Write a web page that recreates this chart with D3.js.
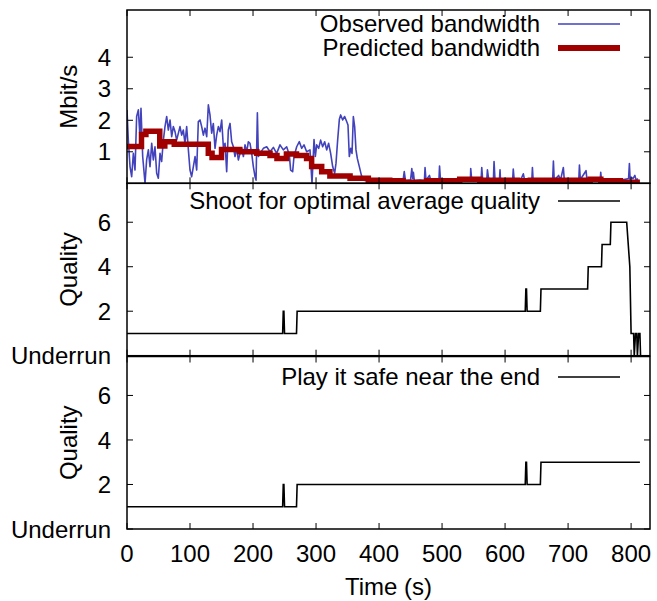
<!DOCTYPE html>
<html>
<head>
<meta charset="utf-8">
<script src="https://cdn.jsdelivr.net/npm/d3@7"></script>
<style>
  body { margin: 0; background: #fff; }
  svg { display: block; }
  text { font-family: "Liberation Sans", Arial, sans-serif; font-size: 24px; fill: #000; }
</style>
</head>
<body>
<svg width="657" height="601"></svg>
<script>
////////////////// DATA
const xTicks = [0, 100, 200, 300, 400, 500, 600, 700, 800];
const bwTicks = [1, 2, 3, 4];
const qualityTicks = [0, 2, 4, 6];
const qualityTickLabels = ["Underrun", "2", "4", "6"];

// observed bandwidth (Mbit/s)
const obsT = [0, 2.1, 4.8, 7.4, 10.1, 12.7, 15.3, 18.0, 20.6, 22.2, 24.9, 28.6, 31.2, 33.9, 36.5, 39.2, 41.8, 44.4, 47.1, 49.7,
  52.4, 55.0, 57.7, 60.3, 63.0, 65.6, 68.3, 70.9, 73.5, 76.2, 78.8, 84.1, 86.8, 89.4, 92.0, 94.7, 97.4, 100.0, 102.6, 105.3,
  108.0, 110.6, 113.2, 115.9, 118.5, 121.2, 123.8, 126.5, 129.1, 131.7, 134.4, 137.0, 139.7, 142.3, 145.0, 147.6, 150.3, 152.9,
  155.6, 158.2, 160.8, 163.5, 166.1, 168.8, 171.4, 174.1, 176.7, 179.4, 182.0, 184.7, 187.3, 190.0, 192.6,
  195.2, 197.9, 200.5, 203.2, 204.8, 206.9, 208.5, 211.1, 216.4, 221.7, 227.0, 232.3, 237.5, 242.8, 248.1, 253.4, 257.6, 259.7,
  262.9, 265.0, 269.3, 273.5, 277.2, 280.9, 285.1, 290.4, 293.6, 296.8, 298.9, 301.0, 304.2, 307.3, 310.5, 313.7, 316.9, 320.0,
  323.2, 326.4, 329.6, 331.7, 334.3, 337.0, 339.1, 342.3, 345.4, 348.6, 350.7, 352.8, 355.0, 357.1, 359.2, 361.3, 363.4, 365.5,
  368.7, 371.9, 375.0, 380.4, 385.6, 396.2, 406.8,
  415, 430, 438, 440, 442, 450, 452, 453.5, 454.5, 456, 465, 472, 473, 474.5, 480, 482, 490, 495, 496, 497.5, 510, 525, 540,
  545, 545.5, 547, 555, 562, 563, 564.5, 571, 572, 573.5, 575, 581.5, 582.5, 584, 591, 592, 593, 595, 605, 612, 613, 614.5,
  625, 629, 631, 642.5, 643.4, 644.5, 660, 675.5, 676.7, 678, 685, 688, 692.5, 694, 705, 717, 718, 719.5, 728.5, 730, 740,
  751, 751.8, 753, 770, 785, 796, 797.3, 798.5, 800, 803, 806, 808, 811];
const obsV = [2.33, 1.37, 0.53, 0.21, 0.95, 0.42, 2.12, 2.33, 1.48, 2.38, 0.85, 0.0, 0.75, 1.06, 0.53, 1.27, 0.74, 1.16, 0.32, 0.16,
  0.95, 0.69, 1.37, 1.8, 2.12, 1.69, 2.01, 1.48, 1.8, 1.64, 1.37, 1.8, 1.53, 1.69, 1.27, 1.8, 1.06, 0.42, 0.21, 0.53,
  0.85, 0.42, 1.96, 2.01, 1.8, 1.53, 1.75, 1.48, 2.49, 2.17, 1.59, 1.9, 1.11, 1.53, 1.8, 1.64, 2.01, 1.16,
  1.27, 0.37, 1.69, 1.9, 1.32, 1.16, 0.85, 1.11, 0.74, 0.95, 1.11, 0.85, 1.22, 1.0, 1.32,
  1.27, 0.95, 0.53, 0.21, 0.1, 2.24, 0.85, 0.95, 1.11, 1.16, 1.0, 1.14, 0.95, 1.22, 1.06, 1.16, 0.9, 0.42,
  0.37, 0.85, 1.16, 1.32, 1.11, 1.22, 1.0, 1.06, 0.0, 1.39, 0.85, 1.22, 1.11, 1.37, 1.16, 1.32, 1.06, 1.27,
  0.95, 0.53, 0.32, 0.64, 1.37, 2.03, 2.17, 2.01, 2.12, 1.96, 1.85, 0.85, 1.11, 0.95, 2.12, 1.8, 1.06, 0.79,
  0.53, 0.26, 0.1, 0.08, 0.12, 0.1, 0.12,
  0.1, 0.12, 0.08, 0.37, 0.08, 0.1, 0.47, 0.15, 0.35, 0.08, 0.1, 0.08, 0.5, 0.1, 0.25, 0.1, 0.12, 0.08, 0.55, 0.1, 0.12, 0.1, 0.12,
  0.1, 0.47, 0.12, 0.1, 0.12, 0.5, 0.1, 0.12, 0.43, 0.2, 0.1, 0.12, 0.69, 0.12, 0.1, 0.43, 0.0, 0.1, 0.12, 0.1, 0.45, 0.1,
  0.12, 0.3, 0.1, 0.1, 0.5, 0.1, 0.12, 0.1, 0.71, 0.1, 0.25, 0.1, 0.5, 0.1, 0.12, 0.1, 0.58, 0.12, 0.4, 0.1, 0.12,
  0.1, 0.35, 0.1, 0.12, 0.1, 0.15, 0.63, 0.1, 0.2, 0.15, 0.25, 0.1, 0.15];

// predicted bandwidth (Mbit/s), step values
const predT = [0, 23, 30, 52, 60, 75, 129, 135, 150, 179, 206, 227, 238, 253, 269, 285, 293, 309, 322, 354, 383, 417, 438,
  476, 528, 560, 620, 640, 735, 752, 783, 814];
const predV = [1.17, 1.55, 1.65, 1.18, 1.32, 1.24, 0.95, 0.82, 1.07, 1.0, 0.95, 0.88, 0.79, 0.93, 0.88, 0.79, 0.53, 0.37,
  0.23, 0.16, 0.1, 0.08, 0.03, 0.08, 0.13, 0.1, 0.08, 0.1, 0.13, 0.08, 0.03, 0.03];

// quality level, "Shoot for optimal average quality"
const optimalT = [0, 247, 248, 249, 250, 269, 270, 632, 633, 634, 635, 656, 657, 731, 732, 753, 754, 767, 768, 793, 798, 800,
  804, 805, 807, 809, 810, 812, 814, 815];
const optimalQ = [1, 1, 2, 2, 1, 1, 2, 2, 3, 3, 2, 2, 3, 3, 4, 4, 5, 5, 6, 6, 4, 1,
  1, 0, 1, 1, 0, 1, 1, 0];

// quality level, "Play it safe near the end"
const safeT = [0, 247, 248, 249, 250, 269, 270, 632, 633, 634, 635, 656, 657, 814];
const safeQ = [1, 1, 2, 2, 1, 1, 2, 2, 3, 3, 2, 2, 3, 3];

////////////////// LAYOUT
const svg = d3.select('svg');
const left = 127, right = 650;
const x = d3.scaleLinear().domain([0, 830]).range([left, right]);

const panels = [
  { id: 'bw', top: 10, bottom: 183.3, domain: [0, 5.5], ticks: bwTicks, labels: bwTicks.map(String), ylabel: 'Mbit/s' },
  { id: 'opt', top: 183.3, bottom: 355.7, domain: [0, 7.75], ticks: qualityTicks, labels: qualityTickLabels, ylabel: 'Quality' },
  { id: 'safe', top: 356.5, bottom: 529, domain: [0, 7.75], ticks: qualityTicks, labels: qualityTickLabels, ylabel: 'Quality' }
];
panels.forEach(p => { p.y = d3.scaleLinear().domain(p.domain).range([p.bottom, p.top]); });

const defs = svg.append('defs');
panels.forEach(p => {
  defs.append('clipPath').attr('id', 'clip-' + p.id)
    .append('rect')
    .attr('x', left).attr('y', p.top)
    .attr('width', right - left).attr('height', p.bottom - p.top);
});

const tickLen = 6;

const drawFrame = (p) => {
  const g = svg.append('g').attr('class', 'frame');
  // x ticks, inward, bottom and top (mirror)
  xTicks.forEach(t => {
    g.append('line').attr('x1', x(t)).attr('x2', x(t)).attr('y1', p.bottom).attr('y2', p.bottom - tickLen)
      .attr('stroke', '#000').attr('stroke-width', 1);
    g.append('line').attr('x1', x(t)).attr('x2', x(t)).attr('y1', p.top).attr('y2', p.top + tickLen)
      .attr('stroke', '#000').attr('stroke-width', 1);
  });
  // y ticks both sides
  p.ticks.forEach((t, i) => {
    const yy = p.y(t);
    g.append('line').attr('x1', left).attr('x2', left + tickLen).attr('y1', yy).attr('y2', yy)
      .attr('stroke', '#000').attr('stroke-width', 1);
    g.append('line').attr('x1', right).attr('x2', right - tickLen).attr('y1', yy).attr('y2', yy)
      .attr('stroke', '#000').attr('stroke-width', 1);
    g.append('text')
      .attr('x', left - 16).attr('y', yy).attr('dy', '0.36em')
      .attr('text-anchor', 'end')
      .text(p.labels[i]);
  });
  g.append('rect')
    .attr('x', left).attr('y', p.top)
    .attr('width', right - left).attr('height', p.bottom - p.top)
    .attr('fill', 'none').attr('stroke', '#000').attr('stroke-width', 1.5);
  g.append('text')
    .attr('transform', `translate(77,${(p.top + p.bottom) / 2}) rotate(-90)`)
    .attr('text-anchor', 'middle')
    .text(p.ylabel);
};

const legendItem = (yy, label, color, width) => {
  svg.append('text').attr('x', 540).attr('y', yy).attr('dy', '0.34em')
    .attr('text-anchor', 'end').text(label);
  svg.append('line').attr('x1', 558).attr('x2', 620).attr('y1', yy).attr('y2', yy)
    .attr('stroke', color).attr('stroke-width', width);
};

const zip = (ts, vs) => ts.map((t, i) => [t, vs[i]]);

////////////////// TOP PANEL: bandwidth
const bw = panels[0];
const bwG = svg.append('g').attr('clip-path', 'url(#clip-bw)');

bwG.append('path')
  .datum(zip(obsT, obsV))
  .attr('fill', 'none')
  .attr('stroke', '#4242bc')
  .attr('stroke-width', 1.6)
  .attr('stroke-linejoin', 'round')
  .attr('d', d3.line().x(d => x(d[0])).y(d => bw.y(d[1])));

bwG.append('path')
  .datum(zip(predT, predV))
  .attr('fill', 'none')
  .attr('stroke', '#a00000')
  .attr('stroke-width', 5.5)
  .attr('d', d3.line().curve(d3.curveStepAfter).x(d => x(d[0])).y(d => bw.y(d[1])));

////////////////// QUALITY PANELS
const qualityLine = (p, ts, qs) => {
  svg.append('g').attr('clip-path', `url(#clip-${p.id})`)
    .append('path')
    .datum(zip(ts, qs))
    .attr('fill', 'none')
    .attr('stroke', '#000')
    .attr('stroke-width', 1.6)
    .attr('d', d3.line().x(d => x(d[0])).y(d => p.y(d[1])));
};
qualityLine(panels[1], optimalT, optimalQ);
qualityLine(panels[2], safeT, safeQ);

panels.forEach(drawFrame);

legendItem(24, 'Observed bandwidth', '#4242bc', 1.6);
legendItem(48, 'Predicted bandwidth', '#a00000', 6);
legendItem(201, 'Shoot for optimal average quality', '#000', 1.6);
legendItem(377, 'Play it safe near the end', '#000', 1.6);

// x tick labels + axis title on the bottom panel only
svg.append('g').selectAll('text')
  .data(xTicks)
  .join('text')
  .attr('x', d => x(d)).attr('y', 562)
  .attr('text-anchor', 'middle')
  .text(d => d);

svg.append('text')
  .attr('x', (left + right) / 2).attr('y', 595)
  .attr('text-anchor', 'middle')
  .text('Time (s)');
</script>
</body>
</html>
